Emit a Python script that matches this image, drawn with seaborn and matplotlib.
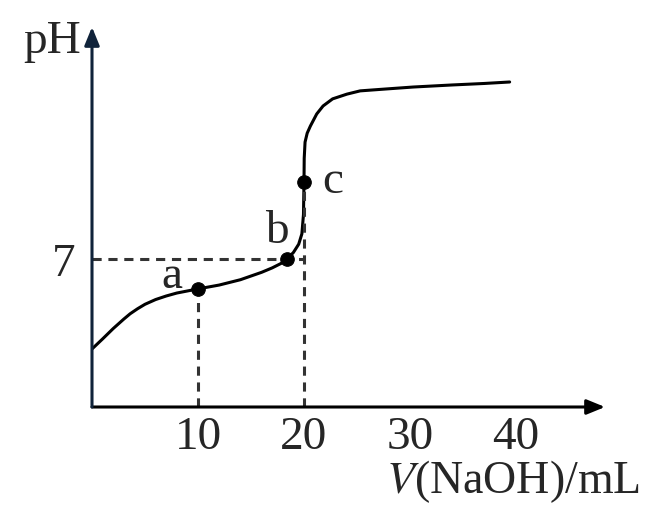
import matplotlib
matplotlib.use("Agg")
import matplotlib.pyplot as plt
import seaborn as sns
import pandas as pd

# Titration curve
volume = [0, 1, 2, 3, 3.6, 4.3, 5, 6, 7, 8, 9, 10, 12, 14, 16, 17, 18, 18.4, 19.0, 19.5, 19.8,
          19.95, 20.0, 20.02, 20.1, 20.3, 20.6, 21.2, 21.8, 22.7, 24.05, 25.3, 27.2, 30.3,
          34.0, 37.0, 39.4]
ph = [3.96, 4.3, 4.65, 4.97, 5.15, 5.32, 5.47, 5.63, 5.75, 5.85, 5.92, 5.99, 6.12, 6.3, 6.55,
      6.7, 6.88, 7.0, 7.22, 7.5, 7.85, 8.5, 9.6, 10.4, 10.95, 11.25, 11.49, 11.9, 12.17, 12.41,
      12.57, 12.68, 12.73, 12.81, 12.88, 12.93, 12.98]

point_labels = ["a", "b", "c"]
point_v = [10, 18.4, 20]
point_ph = [5.99, 7.0, 9.6]

xtick_vals = [10, 20, 30, 40]
xtick_labels = ["10", "20", "30", "40"]
ytick_vals = [7]
ytick_labels = ["7"]

sns.set_style("white")
plt.rcParams["font.family"] = ["Liberation Serif", "DejaVu Serif"]
plt.rcParams["mathtext.fontset"] = "stix"

W, H = 657, 506
fig = plt.figure(figsize=(W / 100, H / 100), dpi=100)
ax = fig.add_axes([92 / W, 98 / H, (605 - 92) / W, (408 - 28) / H])

px_per_ml = 10.6
px_per_ph = 29.6
ax.set_xlim(0, (605 - 92) / px_per_ml)
ax.set_ylim(2, 2 + (408 - 28) / px_per_ph)

df = pd.DataFrame({"V": volume, "pH": ph})
sns.lineplot(data=df, x="V", y="pH", sort=False, color="black", lw=2.2, ax=ax)

pts = pd.DataFrame({"V": point_v, "pH": point_ph, "lab": point_labels})
sns.scatterplot(data=pts, x="V", y="pH", color="black", s=95, edgecolor="black",
                zorder=5, ax=ax, legend=False)

# dashed guide lines
dash = dict(color="#333333", lw=2.2, ls=(0, (3.0, 2.2)))
ax.plot([0, 20], [7, 7], **dash)
ax.plot([10, 10], [2, point_ph[0]], **dash)
ax.plot([20, 20], [2, point_ph[2]], **dash)

# point labels
fs = 34
offsets = {"a": (-2.5, 0.45), "b": (-1.0, 0.95), "c": (2.75, 0.05)}
for lab, v, p in zip(point_labels, point_v, point_ph):
    dx, dy = offsets[lab]
    ax.text(v + dx, p + dy, lab, fontsize=fs, ha="center", va="center")

for s in ax.spines.values():
    s.set_visible(False)

# axes with arrows
ax.annotate("", xy=(1.0, 0), xytext=(0, 0), xycoords="axes fraction",
            arrowprops=dict(arrowstyle="-|>,head_length=1.1,head_width=0.45", color="black", lw=2.2,
                            shrinkA=0, shrinkB=0))
ax.annotate("", xy=(0, 1.0), xytext=(0, 0), xycoords="axes fraction",
            arrowprops=dict(arrowstyle="-|>,head_length=1.1,head_width=0.45", color="#10233a", lw=2.2,
                            shrinkA=0, shrinkB=0))

ax.set_xticks(xtick_vals)
ax.set_xticklabels(xtick_labels, fontsize=fs)
ax.set_yticks(ytick_vals)
ax.set_yticklabels(ytick_labels, fontsize=fs)
ax.tick_params(axis="x", length=0, pad=6)
ax.tick_params(axis="y", length=0, pad=12)
ax.set_xlabel("")
ax.set_ylabel("")

fig.text(52 / W, 1 - 42 / H, "pH", fontsize=fs, ha="center", va="center")
fig.text(513 / W, 1 - 482 / H, r"$V$(NaOH)/mL", fontsize=33, ha="center", va="center")

fig.savefig("out.png", dpi=100)
